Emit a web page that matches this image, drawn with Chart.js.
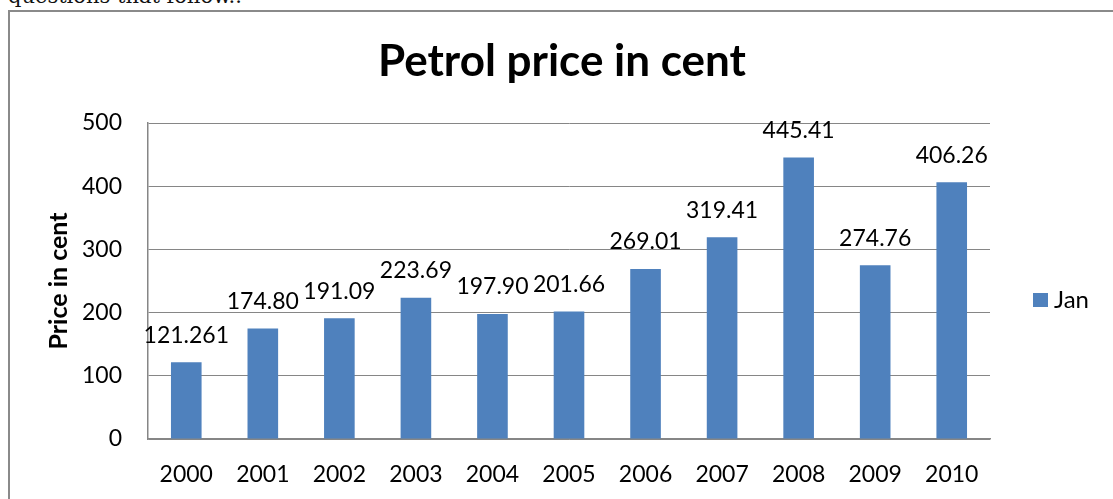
<!DOCTYPE html>
<html>
<head>
<meta charset="utf-8">
<script src="https://cdn.jsdelivr.net/npm/chart.js@4/dist/chart.umd.min.js"></script>
<style>
  html, body { margin: 0; padding: 0; background: #fff; overflow: hidden; }
  #wrap { position: relative; width: 1113px; height: 499px; }
  #above { position: absolute; left: 8px; top: -16px; font-family: "DejaVu Serif", serif; font-size: 21px; color: #111; white-space: nowrap; }
  #frame { position: absolute; left: 8px; top: 10px; width: 1200px; height: 600px; border-left: 2px solid #8a8a8a; border-top: 2px solid #8a8a8a; }
  canvas { position: absolute; left: 0; top: 0; }
</style>
</head>
<body>
<div id="wrap">
  <div id="above">questions that follow..</div>
  <div id="frame"></div>
  <canvas id="chart" width="1113" height="499"></canvas>
</div>
<script>
const years = ['2000', '2001', '2002', '2003', '2004', '2005', '2006', '2007', '2008', '2009', '2010'];
const janPrices = [121.261, 174.80, 191.09, 223.69, 197.90, 201.66, 269.01, 319.41, 445.41, 274.76, 406.26];
const priceLabels = ['121.261', '174.80', '191.09', '223.69', '197.90', '201.66', '269.01', '319.41', '445.41', '274.76', '406.26'];
const seriesName = 'Jan';
const chartTitle = 'Petrol price in cent';
const axisTitle = 'Price in cent';

const FONT = 'Lato';
const gridGray = '#868686';

// labels over bars, title and legend the way Excel puts them
const extras = {
  id: 'extras',
  afterDatasetsDraw(chart) {
    const ctx = chart.ctx;
    const meta = chart.getDatasetMeta(0);
    ctx.save();
    ctx.fillStyle = '#000';
    ctx.font = `23px ${FONT}`;
    ctx.textAlign = 'center';
    ctx.textBaseline = 'middle';
    meta.data.forEach((bar, i) => {
      ctx.fillText(priceLabels[i], bar.x, bar.y - 27);
    });

    ctx.font = `bold 44px ${FONT}`;
    ctx.textBaseline = 'alphabetic';
    ctx.fillText(chartTitle, 562, 76);

    const ds = chart.data.datasets[0];
    ctx.fillStyle = ds.backgroundColor;
    ctx.fillRect(1033, 293, 15, 14);
    ctx.fillStyle = '#000';
    ctx.textAlign = 'left';
    ctx.textBaseline = 'middle';
    ctx.font = `24px ${FONT}`;
    ctx.fillText(ds.label, 1054, 300);
    ctx.restore();
  }
};

new Chart(document.getElementById('chart'), {
  type: 'bar',
  data: {
    labels: years,
    datasets: [{
      label: seriesName,
      data: janPrices,
      backgroundColor: '#4F81BD',
      barPercentage: 0.4,
      categoryPercentage: 1
    }]
  },
  options: {
    responsive: false,
    animation: false,
    layout: { padding: { left: 40, top: 123, right: 123, bottom: 0 } },
    plugins: {
      legend: { display: false },
      title: { display: false },
      tooltip: { enabled: false }
    },
    scales: {
      x: {
        grid: { display: false, drawTicks: false },
        border: { display: true, color: gridGray, width: 1.5 },
        ticks: { color: '#000', font: { family: FONT, size: 23 }, padding: 22 },
        afterFit(scale) { scale.height = 60; }
      },
      y: {
        min: 0,
        max: 500,
        ticks: { stepSize: 100, color: '#000', font: { family: FONT, size: 23 }, padding: 26 },
        grid: { color: gridGray, drawTicks: false, lineWidth: 1 },
        border: { display: true, color: gridGray, width: 1.5 },
        title: {
          display: true,
          text: axisTitle,
          color: '#000',
          font: { family: FONT, size: 25, weight: 'bold' },
          padding: { top: 4, bottom: 0 }
        },
        afterFit(scale) { scale.width = 108; }
      }
    }
  },
  plugins: [extras]
});
</script>
</body>
</html>
